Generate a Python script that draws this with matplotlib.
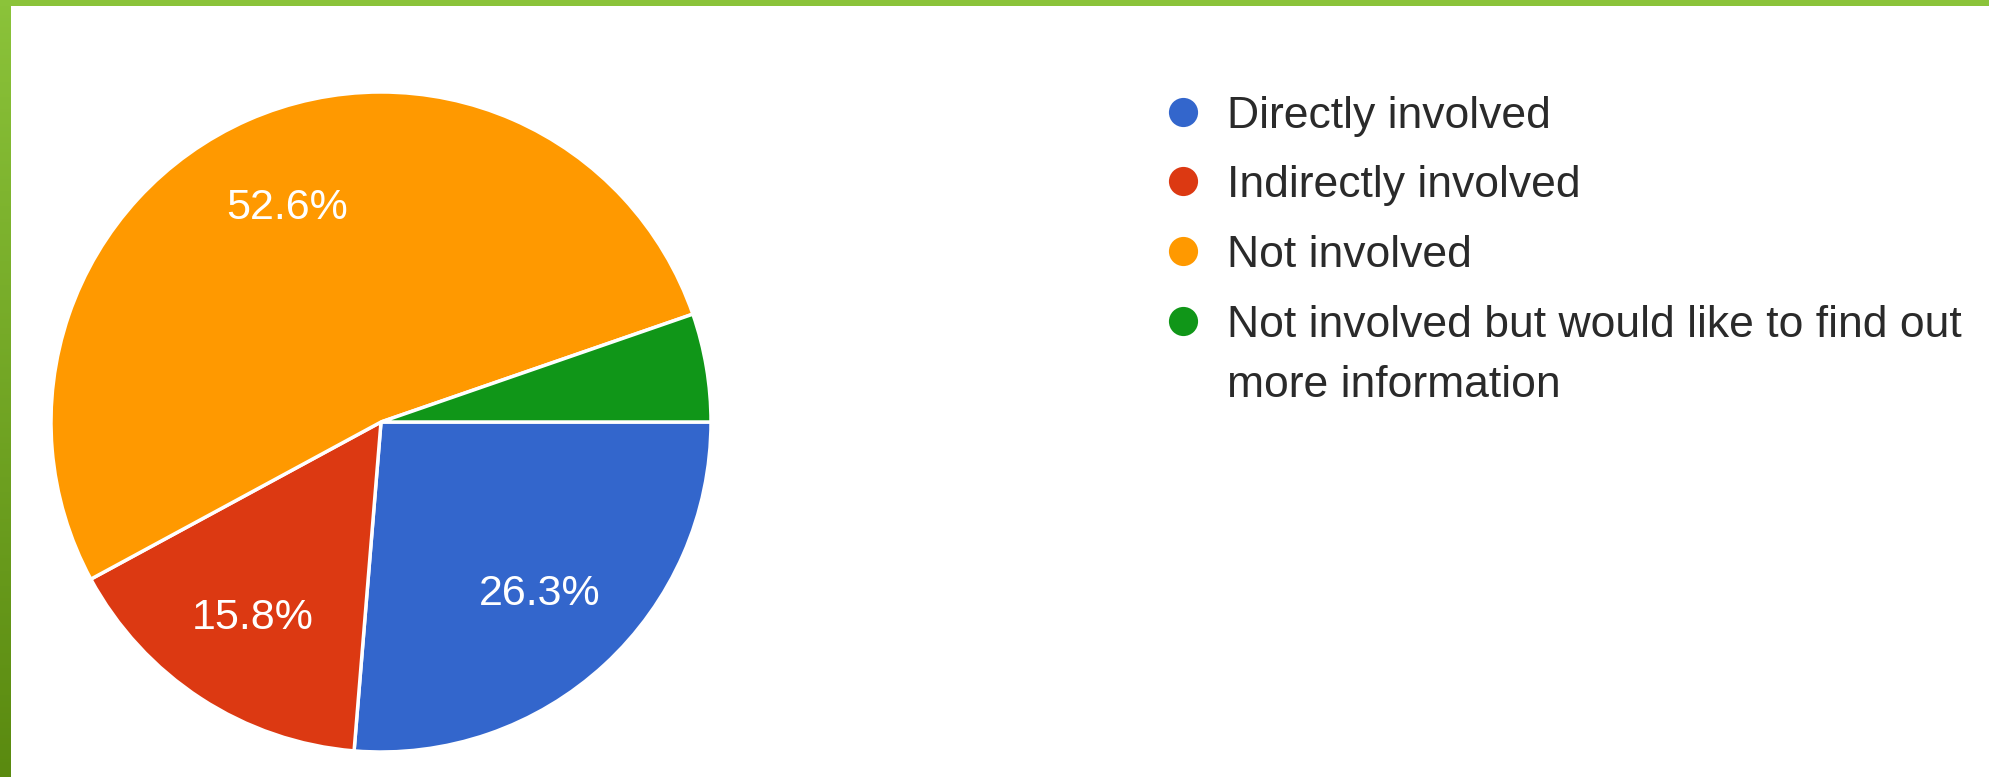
import numpy as np
import matplotlib.pyplot as plt

# data
labels = ['Directly involved', 'Indirectly involved', 'Not involved',
          'Not involved but would like to find out\nmore information']
shares = [26.3, 15.8, 52.6, 5.3]
colors = ['#3366cc', '#dc3912', '#ff9900', '#109618']

W, H = 1989, 777
fig = plt.figure(figsize=(W / 100, H / 100), dpi=100)
fig.patch.set_facecolor('white')

# ── green slide frame (left bar with gradient, thin top bar) ──────────────
frame = fig.add_axes([0, 0, 1, 1])
frame.set_xlim(0, W)
frame.set_ylim(H, 0)
frame.axis('off')
grad = np.linspace(0, 1, 256).reshape(-1, 1)
top_c = np.array([0x8b, 0xc3, 0x3a]) / 255
bot_c = np.array([0x5a, 0x8a, 0x10]) / 255
img = top_c + grad[..., None] * (bot_c - top_c)
frame.imshow(img, extent=[0, 11, H, 0], aspect='auto', zorder=1)
frame.add_patch(plt.Rectangle((0, 0), W, 6, color='#8bc33a', lw=0, zorder=1))

# ── pie ────────────────────────────────────────────────────────────────────
cx, cy, r = 381, 422, 330
ax = fig.add_axes([(cx - r) / W, (H - cy - r) / H, 2 * r / W, 2 * r / H])
wedges, texts, autotexts = ax.pie(
    shares, colors=colors, startangle=0, counterclock=False,
    autopct=lambda p: f'{p:.1f}%' if p > 8 else '',
    pctdistance=0.71,
    wedgeprops=dict(edgecolor='white', linewidth=2.5),
    textprops=dict(color='white', fontsize=31, family='Liberation Sans'))
ax.set_xlim(-1, 1)
ax.set_ylim(-1, 1)
ax.set_aspect('equal')

# ── legend (first line aligned with its marker, wrapped line 60px below) ──
row_y = [112, 181, 251, 321]
for lab, col, y in zip(labels, colors, row_y):
    frame.plot(1183, y, 'o', ms=21, color=col, mec='none', zorder=3)
    for k, line in enumerate(lab.split('\n')):
        frame.text(1227, y + 60 * k, line, ha='left', va='center_baseline',
                   fontsize=32, color='#2a2a2a', family='Liberation Sans',
                   zorder=3)

fig.savefig('out.png', dpi=100)
